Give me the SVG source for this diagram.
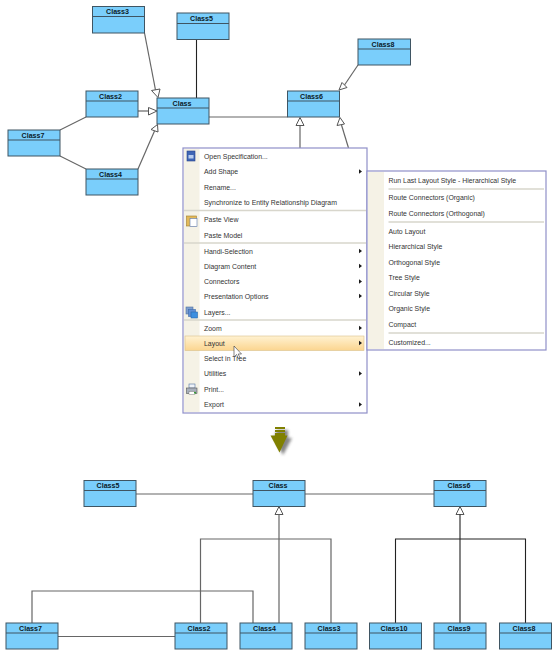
<svg xmlns="http://www.w3.org/2000/svg" width="557" height="657" viewBox="0 0 557 657">
<style>
.box{fill:#7acefb;stroke:#3f5563;stroke-width:1}
.hd{stroke:#3f5563;stroke-width:1;fill:none}
.cn{font:bold 7.1px "Liberation Sans",Arial,sans-serif;fill:#0a1a28;text-anchor:middle}
.ln{fill:none;stroke:#666;stroke-width:1.2}
.lm{fill:none;stroke:#222;stroke-width:1.1}
.tri{fill:#fff;stroke:#555;stroke-width:1}
.menu{fill:#fff;stroke:#8f8fc8;stroke-width:1.2}
.gut{fill:#f5f2e6}
.sep{stroke:#d8d6cc;stroke-width:1.4}
.mi{font:8px "Liberation Sans",Arial,sans-serif;fill:#333}
.ar{fill:#1a1a1a}
</style>
<defs>
<linearGradient id="hl" x1="0" y1="0" x2="0" y2="1"><stop offset="0" stop-color="#fff2d2"/><stop offset="1" stop-color="#fbd58f"/></linearGradient>
<filter id="sh" x="-30%" y="-30%" width="170%" height="170%"><feGaussianBlur stdDeviation="1.4"/></filter>
<path id="sm" d="M0 -2.2L3 0L0 2.2Z"/>
</defs>
<g id="connectors">
<path class="ln" d="M144.500 33L155.500 90"/><path class="tri" d="M158 97.500L151.500 90.500L160 89Z"/>
<path class="lm" d="M196.500 39.500V98"/>
<path class="ln" d="M138 111H148.500"/><path class="tri" d="M157 111L148.500 107.500V115Z"/>
<path class="ln" d="M60 130L86 117"/><path class="ln" d="M60 156L86 169"/>
<path class="ln" d="M138 169L154.500 131"/><path class="tri" d="M157.500 124.500L151 129.500L158 132Z"/>
<path class="ln" d="M209 117H287.500"/>
<path class="ln" d="M300 148V125.500"/><path class="tri" d="M300 117.500L296 125.500H304Z"/>
<path class="ln" d="M348.500 148L341.500 125"/><path class="tri" d="M340 117.500L337 125.500L344.500 124Z"/>
<path class="ln" d="M358 65L344.500 85"/><path class="tri" d="M339 90L342 82.500L347 87.500Z"/>
<path class="ln" d="M136 494H253M305 494H434"/>
<path class="tri" d="M279 506.500L275 514.500H283Z"/>
<path class="ln" d="M279 514.500V623M200.500 623V539H331V623"/>
<path class="ln" d="M32 623V591H253V623"/>
<path class="ln" d="M58 636.500H175"/>
<path class="tri" d="M460 506.500L456 514.500H464Z"/>
<path class="lm" d="M460 514.500V623M395.500 623V539H525.500V623"/>
</g>
<g id="Class3"><rect class="box" x="92.500" y="6.500" width="52" height="26.500"/><path class="hd" d="M92.500 16.500H144.500"/><text class="cn" x="117.500" y="14.200">Class3</text></g>
<g id="Class5"><rect class="box" x="177" y="13" width="52" height="26.500"/><path class="hd" d="M177 23.500H229"/><text class="cn" x="201.500" y="21">Class5</text></g>
<g id="Class2"><rect class="box" x="86" y="91" width="52" height="26"/><path class="hd" d="M86 101H138"/><text class="cn" x="110.500" y="98.800">Class2</text></g>
<g id="Class"><rect class="box" x="157" y="98" width="52" height="26"/><path class="hd" d="M157 108H209"/><text class="cn" x="182" y="105.800">Class</text></g>
<g id="Class7"><rect class="box" x="8" y="130" width="52" height="26"/><path class="hd" d="M8 140H60"/><text class="cn" x="33" y="138">Class7</text></g>
<g id="Class4"><rect class="box" x="86" y="169" width="52" height="26"/><path class="hd" d="M86 179H138"/><text class="cn" x="110.500" y="177">Class4</text></g>
<g id="Class8"><rect class="box" x="358" y="39" width="52.500" height="26"/><path class="hd" d="M358 49H410.500"/><text class="cn" x="383" y="46.800">Class8</text></g>
<g id="Class6"><rect class="box" x="287.500" y="91" width="52" height="26"/><path class="hd" d="M287.500 101H339.500"/><text class="cn" x="311.500" y="98.800">Class6</text></g>

<g id="context-menu">
<rect class="menu" x="183" y="148" width="184" height="265"/>
<rect class="gut" x="184" y="149" width="15.500" height="263"/>
<rect x="185" y="336" width="179" height="14.500" fill="url(#hl)" stroke="#d9c08a" stroke-width=".6"/>
<path class="sep" d="M184 210.500H366M184 243H366M184 320H366"/>
<g class="mi" transform="translate(204 0) scale(.865 1)">
<text x="0" y="159">Open Specification...</text>
<text x="0" y="174.500">Add Shape</text>
<text x="0" y="190">Rename...</text>
<text x="0" y="205.500">Synchronize to Entity Relationship Diagram</text>
<text x="0" y="222.500">Paste View</text>
<text x="0" y="238">Paste Model</text>
<text x="0" y="254">Handi-Selection</text>
<text x="0" y="269">Diagram Content</text>
<text x="0" y="284.500">Connectors</text>
<text x="0" y="299">Presentation Options</text>
<text x="0" y="315">Layers...</text>
<text x="0" y="331">Zoom</text>
<text x="0" y="346">Layout</text>
<text x="0" y="361.500">Select in Tree</text>
<text x="0" y="376.500">Utilities</text>
<text x="0" y="392.500">Print...</text>
<text x="0" y="407.500">Export</text>
</g>
<g class="ar">
<use href="#sm" x="359" y="171.500"/><use href="#sm" x="359" y="251"/><use href="#sm" x="359" y="266"/><use href="#sm" x="359" y="281.500"/><use href="#sm" x="359" y="296"/><use href="#sm" x="359" y="328"/><use href="#sm" x="359" y="343"/><use href="#sm" x="359" y="373.500"/><use href="#sm" x="359" y="404.500"/>
</g>
<g id="icons">
<rect x="187" y="151" width="8" height="10" fill="#3f66b5" stroke="#27408a" stroke-width=".6"/><rect x="188.500" y="155" width="5" height="3.500" fill="#b9cdef"/>
<rect x="186.500" y="216" width="10" height="10" fill="#e3b95a" stroke="#a07c2a" stroke-width=".6"/><rect x="190" y="218.500" width="7" height="8" fill="#fff" stroke="#5a78b0" stroke-width=".6"/>
<rect x="186" y="307" width="7" height="7" fill="#7d9fcf" stroke="#52719f" stroke-width=".6"/><rect x="188.500" y="309.500" width="7" height="7" fill="#5f8fd6" stroke="#3f6aa8" stroke-width=".6"/><rect x="191" y="312" width="6.500" height="6" fill="#3d8fe0" stroke="#2a68a8" stroke-width=".6"/>
<rect x="189" y="384" width="6" height="4" fill="#eef2f8" stroke="#52719f" stroke-width=".6"/><rect x="186.500" y="388" width="10.500" height="5.500" fill="#a8b0bc" stroke="#555" stroke-width=".6"/><rect x="189" y="391.500" width="6" height="3" fill="#fff" stroke="#666" stroke-width=".4"/><rect x="194" y="392" width="2" height="1.500" fill="#3a9a3a"/>
</g>
</g>

<g id="submenu">
<rect class="menu" x="367" y="171" width="179" height="179"/>
<rect class="gut" x="368" y="172" width="16" height="177"/>
<path class="sep" d="M388.500 189H544M388.500 222H544M388.500 333H544"/>
<g class="mi" transform="translate(388.500 0) scale(.865 1)">
<text x="0" y="183">Run Last Layout Style - Hierarchical Style</text>
<text x="0" y="200.500">Route Connectors (Organic)</text>
<text x="0" y="216">Route Connectors (Orthogonal)</text>
<text x="0" y="234">Auto Layout</text>
<text x="0" y="249">Hierarchical Style</text>
<text x="0" y="265">Orthogonal Style</text>
<text x="0" y="280.500">Tree Style</text>
<text x="0" y="296">Circular Style</text>
<text x="0" y="311.500">Organic Style</text>
<text x="0" y="327">Compact</text>
<text x="0" y="345">Customized...</text>
</g>
</g>
<path id="cursor" d="M234 346V357L236.500 354.500L238.500 358.500L240 357.800L238.200 354H241.500Z" fill="#fff" stroke="#333" stroke-width=".6"/>

<g id="down-arrow">
<path d="M277 430H288V438H292L283 455L274 438Z" fill="#666" filter="url(#sh)" opacity=".8"/>
<path d="M275 427H285V429H275ZM275 430H285V432H275ZM275 433H285V436H275Z" fill="#808000"/>
<path d="M270.500 435.500H287.500L279.500 452.500Z" fill="#808000"/>
</g>

<g id="Class5b"><rect class="box" x="84" y="480.500" width="52" height="26"/><path class="hd" d="M84 490.500H136"/><text class="cn" x="108" y="488.300">Class5</text></g>
<g id="Classb"><rect class="box" x="253" y="480.500" width="52" height="26"/><path class="hd" d="M253 490.500H305"/><text class="cn" x="278" y="488.300">Class</text></g>
<g id="Class6b"><rect class="box" x="434" y="480.500" width="52" height="26"/><path class="hd" d="M434 490.500H486"/><text class="cn" x="459" y="488.300">Class6</text></g>
<g id="Class7b"><rect class="box" x="6" y="623" width="52" height="26"/><path class="hd" d="M6 633H58"/><text class="cn" x="30.500" y="631">Class7</text></g>
<g id="Class2b"><rect class="box" x="175" y="623" width="52" height="26"/><path class="hd" d="M175 633H227"/><text class="cn" x="199" y="631">Class2</text></g>
<g id="Class4b"><rect class="box" x="240" y="623" width="52" height="26"/><path class="hd" d="M240 633H292"/><text class="cn" x="264.500" y="631">Class4</text></g>
<g id="Class3b"><rect class="box" x="305" y="623" width="52" height="26"/><path class="hd" d="M305 633H357"/><text class="cn" x="329" y="631">Class3</text></g>
<g id="Class10b"><rect class="box" x="369.500" y="623" width="52" height="26"/><path class="hd" d="M369.500 633H421.500"/><text class="cn" x="394" y="631">Class10</text></g>
<g id="Class9b"><rect class="box" x="434" y="623" width="52" height="26"/><path class="hd" d="M434 633H486"/><text class="cn" x="459" y="631">Class9</text></g>
<g id="Class8b"><rect class="box" x="499.500" y="623" width="52" height="26"/><path class="hd" d="M499.500 633H551.500"/><text class="cn" x="524" y="631">Class8</text></g>
</svg>
